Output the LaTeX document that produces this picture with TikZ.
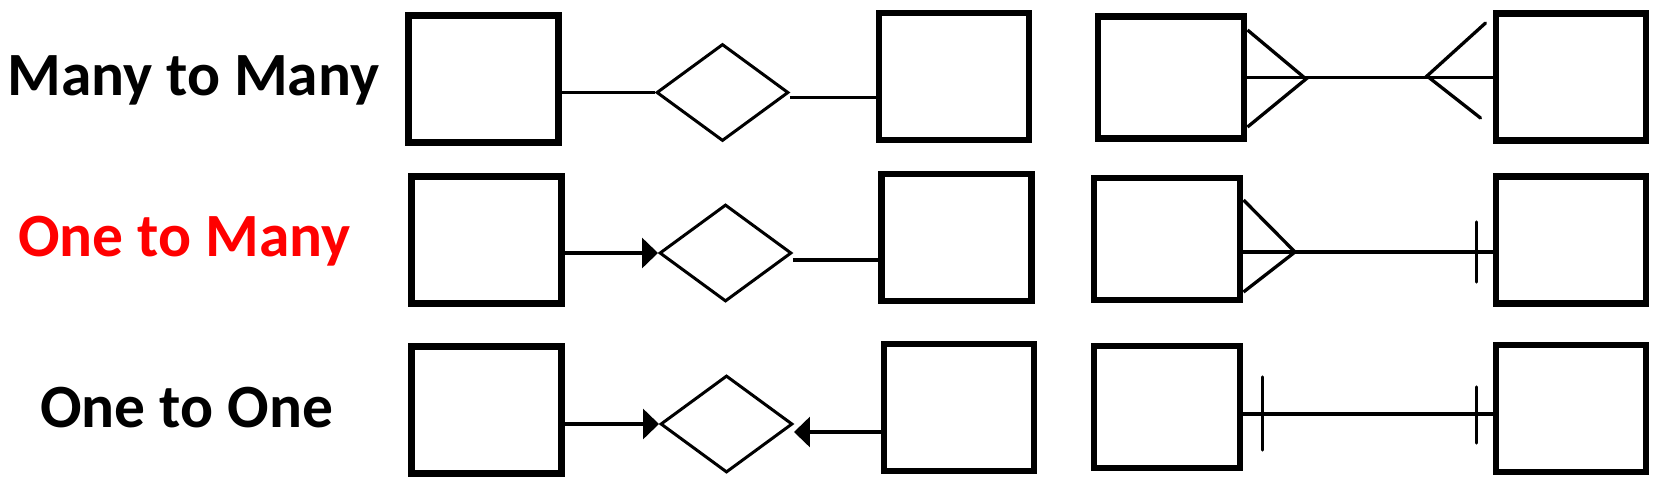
\documentclass[tikz,border=0pt]{standalone}
\usepackage{fontspec}
\setmainfont{Carlito}
\usetikzlibrary{shapes.geometric,arrows.meta,calc}

\begin{document}
\begin{tikzpicture}[x=0.02cm, y=-0.02cm,
    entity/.style={draw, line width=0.13cm, inner sep=0pt, minimum width=3.01cm, minimum height=2.55cm},
    entitysm/.style={entity, minimum width=2.93cm, minimum height=2.45cm},
    relation/.style={draw, diamond, line width=0.06cm, inner sep=0pt, minimum width=2.64cm, minimum height=1.94cm},
    link/.style={line width=0.066cm},
    tick/.style={link, line cap=round},
    arrowlink/.style={link, -{Triangle[length=0.32cm, width=0.6cm]}},
    kind/.style={font=\bfseries\fontsize{35}{42}\selectfont, inner sep=0pt, anchor=base west}]
    \useasboundingbox (0,0) rectangle (1661,481);

    % Row titles
    \node[kind] (T1) at (7,95) {Many to Many};
    \node[kind, text=red] (T2) at (18,256) {One to Many};
    \node[kind] (T3) at (40,427) {One to One};

    % Chen notation: entities and relationships
    \node[entity] (A1) at (483.5,79) {};
    \node[entity] (A2) at (486.5,240) {};
    \node[entity] (A3) at (486.5,410) {};
    \node[relation] (R1) at (722.5,92.5) {};
    \node[relation] (R2) at (725.5,253) {};
    \node[relation] (R3) at (726.5,424) {};
    \node[entity] (B1) at (954,76.5) {};
    \node[entity] (B2) at (956.5,237.5) {};
    \node[entity] (B3) at (959,407.5) {};

    % Chen notation: links
    \draw[link] (A1.east |- R1.west) -- (R1.west);
    \draw[link] ([yshift=-0.1cm]R1.east) -- ([yshift=-0.1cm]R1.east -| B1.west);
    \draw[arrowlink] (A2.east |- R2.west) -- (R2.west);
    \draw[link] ([yshift=-0.14cm]R2.east) -- ([yshift=-0.14cm]R2.east -| B2.west);
    \draw[arrowlink] (A3.east |- R3.west) -- (R3.west);
    \draw[arrowlink] ([yshift=-0.16cm]R3.east -| B3.west) -- ([yshift=-0.16cm]R3.east);

    % Crow's foot notation: entities
    \node[entitysm] (C1) at (1171,77.5) {};
    \node[entitysm] (C2) at (1167,239) {};
    \node[entitysm] (C3) at (1167,407) {};
    \node[entity] (D1) at (1571,77) {};
    \node[entity] (D2) at (1571,240) {};
    \node[entity] (D3) at (1571,408.5) {};

    % Many to many
    \coordinate (F1) at (1306,79);
    \coordinate (G1) at (1427,76);
    \draw[link] (C1.east) -- (C1.east -| D1.west);
    \draw[link] ($(C1.east)+(0,-47.5)$) -- (F1) -- ($(C1.east)+(0,49.5)$);
    \draw[tick] ($(D1.west)+(-7,-54)$) -- (G1) -- ($(D1.west)+(-12,41)$);

    % One to many
    \coordinate (F2) at (1295,252);
    \draw[link] ([yshift=-0.26cm]C2.east) -- ([yshift=-0.26cm]C2.east -| D2.west);
    \draw[link] ($(C2.east)+(0,-39)$) -- (F2) -- ($(C2.east)+(0,53)$);
    \draw[tick] ($(D2.west)+(-16,-18)$) -- ($(D2.west)+(-16,42)$);

    % One to one
    \draw[link] ([yshift=-0.14cm]C3.east) -- ([yshift=-0.14cm]C3.east -| D3.west);
    \draw[tick] ($(C3.east)+(19,-30)$) -- ($(C3.east)+(19,43)$);
    \draw[tick] ($(D3.west)+(-16,-21.5)$) -- ($(D3.west)+(-16,34.5)$);
\end{tikzpicture}
\end{document}
